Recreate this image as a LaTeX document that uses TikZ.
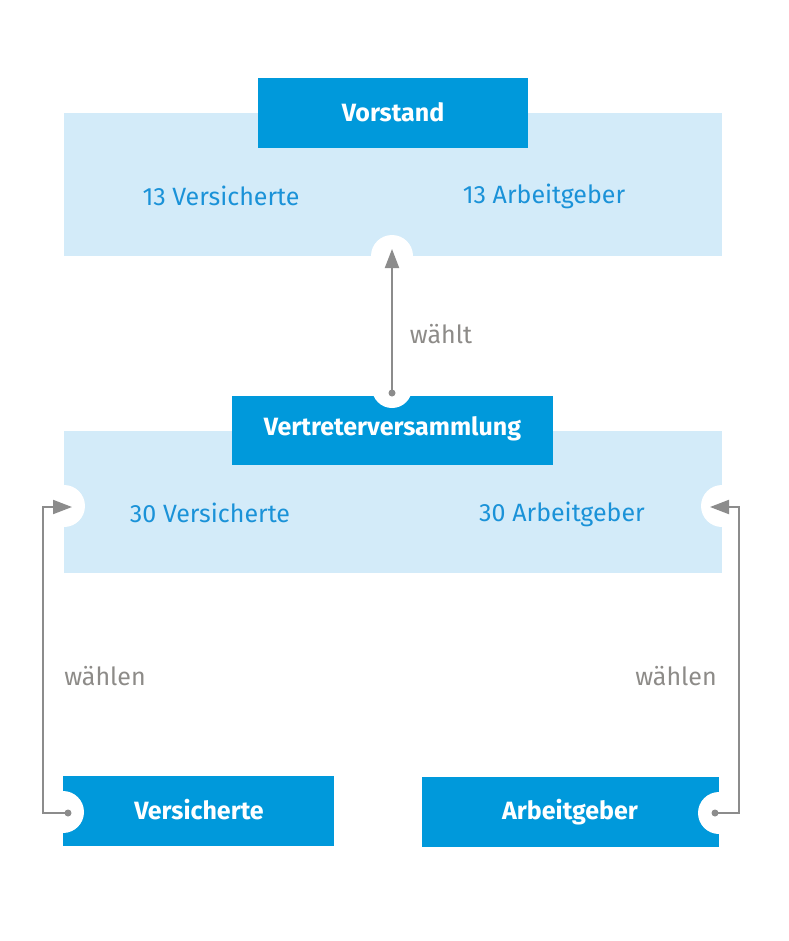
\documentclass[tikz,border=0pt]{standalone}
\usepackage{fontspec}
\setmainfont{Fira Sans}
\usetikzlibrary{arrows.meta}
\definecolor{darkblue}{HTML}{0099DB}
\definecolor{lightblue}{HTML}{D3EBF9}
\definecolor{textblue}{HTML}{1A92D8}
\definecolor{greytext}{HTML}{8D8B88}
\definecolor{arrowgrey}{HTML}{8C8C8C}
\tikzset{
  lightbox/.style={fill=lightblue, draw=none, inner sep=0pt, rectangle},
  darkbox/.style={fill=darkblue, draw=none, inner sep=0pt, rectangle},
  headtext/.style={text=white, font=\fontsize{25}{30}\selectfont\bfseries, anchor=base, inner sep=0pt},
  bluetext/.style={text=textblue, font=\fontsize{25}{30}\selectfont, anchor=base, inner sep=0pt},
  greylabel/.style={text=greytext, font=\fontsize{25}{30}\selectfont, anchor=base, inner sep=0pt},
  cutout/.style={fill=white, draw=none},
  arr/.style={draw=arrowgrey, line width=2pt, -{Triangle[length=19pt,width=14pt]}},
  dotmark/.style={fill=arrowgrey, draw=none},
}
\begin{document}
\begin{tikzpicture}[x=1pt,y=-1pt]
\useasboundingbox (0,0) rectangle (788,941);
% boxes
\node[lightbox, minimum width=658pt, minimum height=143pt] (vorstandL) at (393,184.5) {};
\node[darkbox, minimum width=270pt, minimum height=70pt] (vorstandD) at (393,113) {};
\node[lightbox, minimum width=658pt, minimum height=142pt] (vvL) at (393,502) {};
\node[darkbox, minimum width=321pt, minimum height=69pt] (vvD) at (392.5,430.5) {};
\node[darkbox, minimum width=271pt, minimum height=70pt] (versD) at (198.5,811) {};
\node[darkbox, minimum width=297pt, minimum height=70pt] (arbD) at (570.5,812) {};
% cutouts
\fill[cutout] (392,256) circle (21);
\fill[cutout] (392,388) circle (20);
\fill[cutout] (64,506) circle (21);
\fill[cutout] (722,506) circle (21);
\fill[cutout] (63,812) circle (21);
\fill[cutout] (719,813) circle (21);
% texts
\node[headtext] (tVorstand) at (393,122) {Vorstand};
\node[headtext] (tVV) at (392.5,435) {Vertreterversammlung};
\node[headtext] (tVers) at (199,819) {Versicherte};
\node[headtext] (tArb) at (570,819) {Arbeitgeber};
\node[bluetext] (t13V) at (221,206) {13 Versicherte};
\node[bluetext] (t13A) at (544,204) {13 Arbeitgeber};
\node[bluetext] (t30V) at (210,522) {30 Versicherte};
\node[bluetext] (t30A) at (562,521) {30 Arbeitgeber};
\node[greylabel] (lw1) at (441,343) {wählt};
\node[greylabel] (lw2) at (105,685) {wählen};
\node[greylabel] (lw3) at (676,685) {wählen};
% arrows
\coordinate (d1) at (392,393);
\coordinate (t1) at (392,249);
\coordinate (d2) at (68,813);
\coordinate (t2) at (72,507);
\coordinate (d3) at (715,813);
\coordinate (t3) at (710,507);
\fill[dotmark] (d1) circle (3.5);
\fill[dotmark] (d2) circle (3.5);
\fill[dotmark] (d3) circle (3.5);
\draw[arr] (d1) -- (t1);
\draw[arr] (d2) -- (43,813) -- (43,507) -- (t2);
\draw[arr] (d3) -- (739,813) -- (739,507) -- (t3);
\end{tikzpicture}
\end{document}
